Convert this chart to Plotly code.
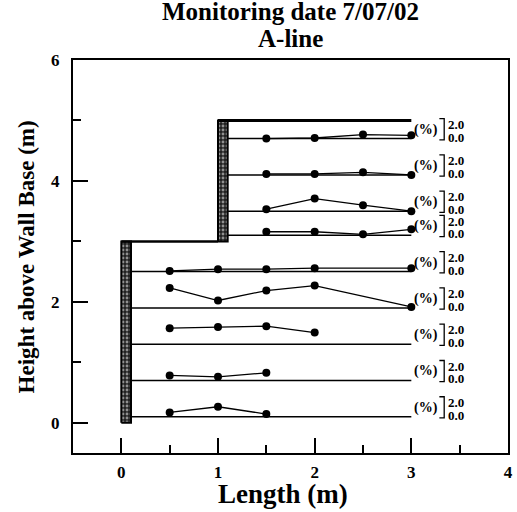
import plotly.graph_objects as go

# ---- data ----
lower_levels = [0.1, 0.7, 1.3, 1.9, 2.5]
lower_x = [0.5, 1.0, 1.5, 2.0, 3.0]
lower_strain = [
    [0.43, 1.00, 0.27, None, None],
    [0.50, 0.36, 0.76, None, None],
    [1.60, 1.73, 1.80, 1.16, None],
    [2.00, 0.74, 1.74, 2.24, 0.10],
    [0.07, 0.24, 0.24, 0.34, 0.34],
]
upper_levels = [3.1, 3.5, 4.1, 4.7]
upper_x = [1.5, 2.0, 2.5, 3.0]
upper_strain = [
    [0.36, 0.36, 0.10, 0.60],
    [0.20, 1.26, 0.60, 0.00],
    [0.10, 0.10, 0.26, 0.00],
    [0.00, 0.06, 0.40, 0.33],
]
scale_max_pct = 2.0
scale_height = 0.33   # metres on plot for 2.0 %
baseline_end = 3.0
lower_wall = dict(x0=0.0, x1=0.1, y0=0.0, y1=3.0)
upper_wall = dict(x0=1.0, x1=1.1, y0=3.0, y1=5.0)
title_lines = ["Monitoring date 7/07/02", "A-line"]
x_title = "Length (m)"
y_title = "Height above Wall Base (m)"

FONT = "Liberation Serif"
k = scale_height / scale_max_pct

fig = go.Figure()

# walls (hatched)
for w in (lower_wall, upper_wall):
    fig.add_trace(go.Scatter(
        x=[w["x0"], w["x1"], w["x1"], w["x0"], w["x0"]],
        y=[w["y0"], w["y0"], w["y1"], w["y1"], w["y0"]],
        mode="lines", fill="toself", fillcolor="#222222",
        fillpattern=dict(shape=".", fgcolor="white", bgcolor="#222222", size=4, solidity=0.4),
        line=dict(color="black", width=2), hoverinfo="skip", showlegend=False))

# ground surfaces
fig.add_trace(go.Scatter(x=[lower_wall["x0"], upper_wall["x0"]], y=[lower_wall["y1"], lower_wall["y1"]],
                         mode="lines", line=dict(color="black", width=2.5), showlegend=False))
fig.add_trace(go.Scatter(x=[upper_wall["x0"], baseline_end], y=[upper_wall["y1"], upper_wall["y1"]],
                         mode="lines", line=dict(color="black", width=3), showlegend=False))

def add_level(level, x0, xs, strains):
    fig.add_trace(go.Scatter(x=[x0, baseline_end], y=[level, level], mode="lines",
                             line=dict(color="black", width=1.5), showlegend=False))
    px = [x for x, s in zip(xs, strains) if s is not None]
    py = [level + s * k for s in strains if s is not None]
    fig.add_trace(go.Scatter(x=px, y=py, mode="lines+markers",
                             line=dict(color="black", width=1.3),
                             marker=dict(color="black", size=8), showlegend=False))
    # scale bracket
    fig.add_trace(go.Scatter(x=[3.29, 3.34, 3.34, 3.29],
                             y=[level + scale_height, level + scale_height, level - 0.02, level - 0.02],
                             mode="lines", line=dict(color="black", width=1.3), showlegend=False))
    fig.add_annotation(x=3.155, y=level + 0.15, text="(%)", showarrow=False,
                       font=dict(family=FONT, size=14, color="black", weight="bold"),
                       xanchor="center", yanchor="middle")
    fig.add_annotation(x=3.355, y=level + 0.235, text="2.0", showarrow=False,
                       font=dict(family=FONT, size=13, color="black", weight="bold"),
                       xanchor="left", yanchor="middle")
    fig.add_annotation(x=3.355, y=level + 0.025, text="0.0", showarrow=False,
                       font=dict(family=FONT, size=13, color="black", weight="bold"),
                       xanchor="left", yanchor="middle")

for lv, st in zip(lower_levels, lower_strain):
    add_level(lv, lower_wall["x1"], lower_x, st)
for lv, st in zip(upper_levels, upper_strain):
    add_level(lv, upper_wall["x1"], upper_x, st)

# title as annotations
for txt, yp in zip(title_lines, [1.123, 1.055]):
    fig.add_annotation(x=0.5, xref="paper", y=yp, yref="paper", text=txt, showarrow=False,
                       xanchor="center", yanchor="middle",
                       font=dict(family=FONT, size=25, color="black", weight="bold"))

# axis titles
fig.add_annotation(x=0.482, xref="paper", y=-0.104, yref="paper", text=x_title, showarrow=False,
                   xanchor="center", yanchor="middle",
                   font=dict(family=FONT, size=27, color="black", weight="bold"))
fig.add_annotation(x=-0.106, xref="paper", y=0.5, yref="paper", text=y_title, showarrow=False,
                   xanchor="center", yanchor="middle", textangle=-90,
                   font=dict(family=FONT, size=23, color="black", weight="bold"))

axis_common = dict(showgrid=False, zeroline=False, showline=True, linecolor="black", linewidth=2,
                   mirror=True, ticks="inside", tickcolor="black", tickwidth=2, ticklen=15,
                   automargin=False,
                   tickfont=dict(family=FONT, size=17, color="black", weight="bold"))

fig.update_layout(
    width=517, height=512,
    margin=dict(l=73, r=9, t=60, b=59),
    paper_bgcolor="white", plot_bgcolor="white",
    xaxis=dict(range=[-0.5, 4], tickvals=[0, 1, 2, 3, 4], ticklabelstandoff=3,
               minor=dict(tickvals=[0.5, 1.5, 2.5, 3.5], ticks="inside", ticklen=8, tickwidth=2, tickcolor="black"),
               **axis_common),
    yaxis=dict(range=[-0.5, 6], tickvals=[0, 2, 4, 6], ticklabelstandoff=8,
               minor=dict(tickvals=[1, 3, 5], ticks="inside", ticklen=8, tickwidth=2, tickcolor="black"),
               **axis_common),
)

fig.write_html("out.html", config={"displayModeBar": False},
               post_script="document.body.style.margin='0';")
